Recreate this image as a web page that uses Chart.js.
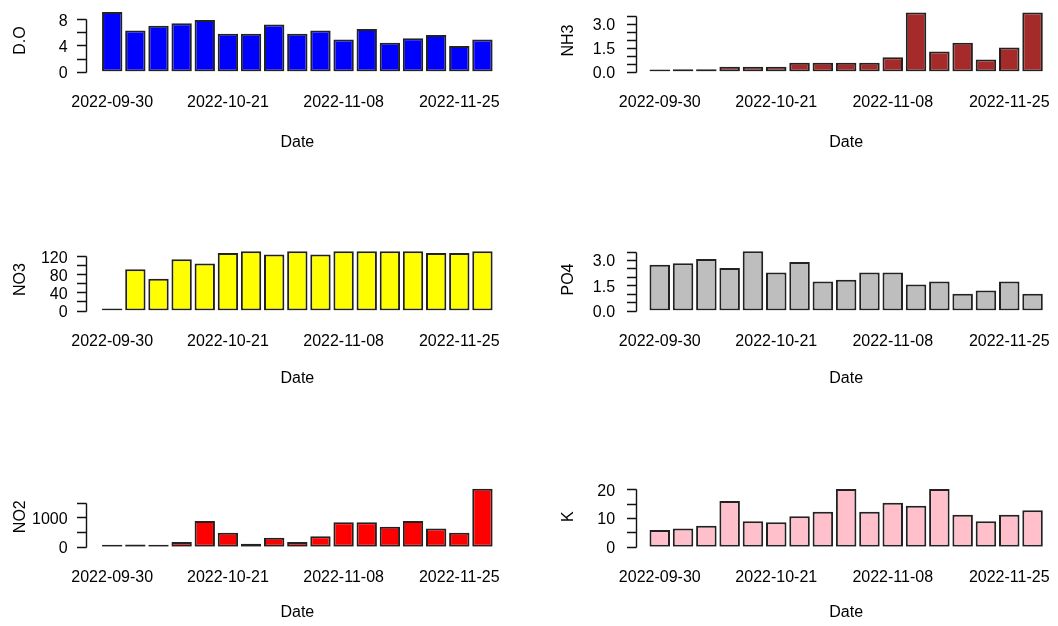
<!DOCTYPE html>
<html><head><meta charset="utf-8">
<script src="https://cdn.jsdelivr.net/npm/chart.js@4"></script>
<style>
html,body{margin:0;padding:0;background:#fff;}
body{width:1058px;height:626px;position:relative;overflow:hidden;}
canvas{position:absolute;}
</style></head><body>
<canvas id="c0" width="529" height="156" style="left:0;top:0"></canvas>
<canvas id="c1" width="529" height="156" style="left:529px;top:0"></canvas>
<canvas id="c2" width="529" height="162" style="left:0;top:230px"></canvas>
<canvas id="c3" width="529" height="162" style="left:529px;top:230px"></canvas>
<canvas id="c4" width="529" height="186" style="left:0;top:440px"></canvas>
<canvas id="c5" width="529" height="186" style="left:529px;top:440px"></canvas>
<script>
// ---- data ----
const dates = ['2022-09-30','2022-10-04','2022-10-07','2022-10-11','2022-10-14','2022-10-21','2022-10-25','2022-10-28','2022-11-01','2022-11-04','2022-11-08','2022-11-11','2022-11-15','2022-11-18','2022-11-22','2022-11-25','2022-11-29'];
const shownDateIdx = [0, 5, 10, 15];

const doValues  = [9.1, 6.3, 7.0, 7.4, 7.9, 5.8, 5.8, 7.2, 5.8, 6.3, 4.9, 6.5, 4.4, 5.1, 5.6, 3.9, 4.9];
const nh3Values = [0.02, 0.15, 0.15, 0.3, 0.3, 0.3, 0.55, 0.55, 0.55, 0.55, 0.9, 3.7, 1.25, 1.8, 0.75, 1.5, 3.7];
const no3Values = [0, 91, 70, 113, 104, 127, 131, 124, 131, 124, 131, 131, 131, 131, 127, 127, 131];
const po4Values = [2.72, 2.8, 3.06, 2.53, 3.51, 2.25, 2.88, 1.72, 1.82, 2.25, 2.25, 1.54, 1.72, 1.0, 1.18, 1.72, 1.0];
const no2Values = [10, 75, 10, 160, 880, 475, 100, 305, 160, 360, 835, 835, 680, 880, 625, 475, 1980];
const kValues   = [5.8, 6.3, 7.3, 15.9, 8.9, 8.5, 10.6, 12.2, 20.1, 12.2, 15.3, 14.3, 20.1, 11.1, 8.9, 11.1, 12.7];

const doTicks  = [0, 2, 4, 6, 8];           const doTickLabels  = ['0', '', '4', '', '8'];
const nh3Ticks = [0, 0.5, 1, 1.5, 2, 2.5, 3, 3.5]; const nh3TickLabels = ['0.0', '', '', '1.5', '', '', '3.0', ''];
const no3Ticks = [0, 20, 40, 60, 80, 100, 120];  const no3TickLabels = ['0', '', '40', '', '80', '', '120'];
const po4Ticks = [0, 0.5, 1, 1.5, 2, 2.5, 3, 3.5]; const po4TickLabels = ['0.0', '', '', '1.5', '', '', '3.0', ''];
const no2Ticks = [0, 500, 1000, 1500];      const no2TickLabels = ['0', '', '1000', ''];
const kTicks   = [0, 5, 10, 15, 20];        const kTickLabels   = ['0', '', '10', '', '20'];

// ---- layout / style ----
const rows = [
  {top: 0,   height: 156, base: 71.6,  areaH: 62},
  {top: 230, height: 162, base: 310.5, areaH: 62},
  {top: 440, height: 186, base: 546.7, areaH: 60}
];
const cols = [
  {left: 0,   width: 529, areaL: 100.65, areaR: 494.0,  gap: 14.6, titlePad: 11.4},
  {left: 529, width: 529, areaL: 648.1,  areaR: 1044.2, gap: 12.6, titlePad: 30.0}
];
const panels = [
  {id: 'c0', row: 0, col: 0, title: 'D.O', values: doValues,  color: '#0000FF', ticks: doTicks,  labels: doTickLabels,  yMax: 9.48},
  {id: 'c1', row: 0, col: 1, title: 'NH3', values: nh3Values, color: '#A52A2A', ticks: nh3Ticks, labels: nh3TickLabels, yMax: 3.875},
  {id: 'c2', row: 1, col: 0, title: 'NO3', values: no3Values, color: '#FFFF00', ticks: no3Ticks, labels: no3TickLabels, yMax: 137},
  {id: 'c3', row: 1, col: 1, title: 'PO4', values: po4Values, color: '#BEBEBE', ticks: po4Ticks, labels: po4TickLabels, yMax: 3.68},
  {id: 'c4', row: 2, col: 0, title: 'NO2', values: no2Values, color: '#FF0000', ticks: no2Ticks, labels: no2TickLabels, yMax: 2048},
  {id: 'c5', row: 2, col: 1, title: 'K',   values: kValues,   color: '#FFC0CB', ticks: kTicks,   labels: kTickLabels,   yMax: 20.9}
];

Chart.defaults.font.family = "'Liberation Sans', Arial, sans-serif";
Chart.defaults.font.size = 16;
Chart.defaults.color = '#000';

const rAxisPlugin = {
  id: 'rAxis',
  afterDraw(chart, args, opts) {
    const ys = chart.scales.y;
    const ctx = chart.ctx;
    const x0 = Math.round(chart.chartArea.left - opts.gap) + 0.5;
    const px = ys.ticks.map(t => Math.round(ys.getPixelForValue(t.value)) + 0.5);
    ctx.save();
    ctx.strokeStyle = '#111';
    ctx.lineWidth = 1.4;
    ctx.beginPath();
    ctx.moveTo(x0, Math.min(...px));
    ctx.lineTo(x0, Math.max(...px));
    px.forEach(p => { ctx.moveTo(x0, p); ctx.lineTo(x0 - opts.len, p); });
    ctx.stroke();
    ctx.restore();
  }
};

panels.forEach(p => {
  const r = rows[p.row], c = cols[p.col];
  new Chart(document.getElementById(p.id), {
    type: 'bar',
    data: {
      labels: dates,
      datasets: [{
        data: p.values,
        backgroundColor: p.color,
        borderColor: '#222',
        borderWidth: 2,
        borderSkipped: false,
        barPercentage: 0.88,
        categoryPercentage: 1,
        minBarLength: 2
      }]
    },
    options: {
      responsive: false,
      animation: false,
      events: [],
      layout: {padding: {top: r.base - r.areaH - r.top, right: c.left + c.width - c.areaR, left: 0, bottom: 0}},
      plugins: {legend: {display: false}, tooltip: {enabled: false}, rAxis: {gap: c.gap, len: 9.5}},
      scales: {
        x: {
          offset: true,
          grid: {display: false, drawTicks: false},
          border: {display: false},
          ticks: {
            autoSkip: false, maxRotation: 0, minRotation: 0, padding: 21,
            callback: (v, i) => shownDateIdx.includes(i) ? dates[i] : ''
          },
          title: {display: true, text: 'Date', padding: {top: 0, bottom: 4}},
          afterFit: s => { s.height = r.top + r.height - r.base; s.paddingLeft = 0; s.paddingRight = 0; }
        },
        y: {
          min: 0, max: p.yMax,
          grid: {display: false, drawTicks: false},
          border: {display: false},
          afterBuildTicks: s => { s.ticks = p.ticks.map(v => ({value: v})); },
          ticks: {autoSkip: false, padding: 33, labelOffset: 2, callback: (v, i) => p.labels[i]},
          title: {display: true, text: p.title, padding: {top: c.titlePad, bottom: 0}},
          afterFit: s => { s.width = c.areaL - c.left; s.paddingTop = 0; s.paddingBottom = 0; }
        }
      }
    },
    plugins: [rAxisPlugin]
  });
});
</script>
</body></html>
